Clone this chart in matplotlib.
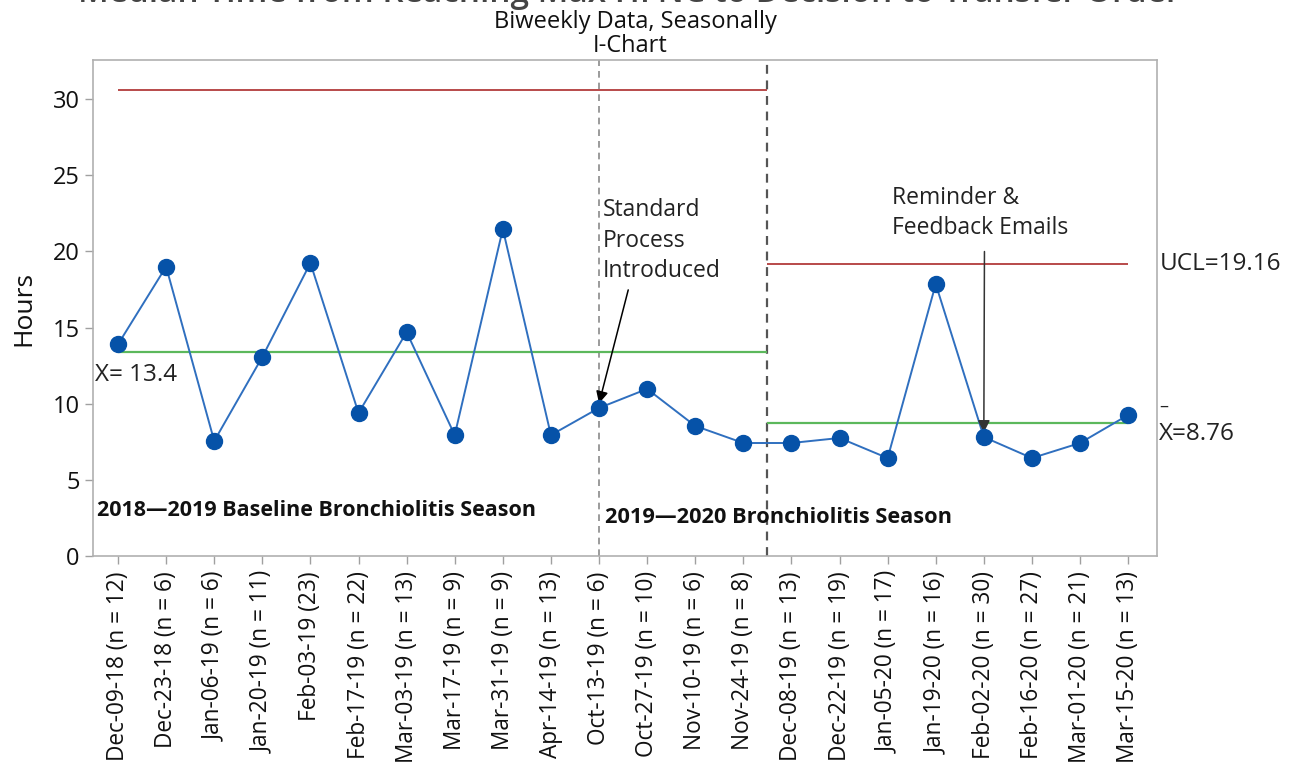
import matplotlib
matplotlib.use("Agg")
import matplotlib.pyplot as plt

plt.rcParams['font.family'] = ['Open Sans', 'DejaVu Sans']

# Biweekly periods with sample sizes
dates = ["Dec-09-18 (n = 12)", "Dec-23-18 (n = 6)", "Jan-06-19 (n = 6)", "Jan-20-19 (n = 11)",
         "Feb-03-19 (23)", "Feb-17-19 (n = 22)", "Mar-03-19 (n = 13)", "Mar-17-19 (n = 9)",
         "Mar-31-19 (n = 9)", "Apr-14-19 (n = 13)", "Oct-13-19 (n = 6)", "Oct-27-19 (n = 10)",
         "Nov-10-19 (n = 6)", "Nov-24-19 (n = 8)", "Dec-08-19 (n = 13)", "Dec-22-19 (n = 19)",
         "Jan-05-20 (n = 17)", "Jan-19-20 (n = 16)", "Feb-02-20 (n = 30)", "Feb-16-20 (n = 27)",
         "Mar-01-20 (n = 21)", "Mar-15-20 (n = 13)"]

# Median hours per period
hours = [13.9, 19.0, 7.55, 13.07, 19.24, 9.39, 14.7, 7.94, 21.47, 7.94,
         9.72, 10.97, 8.54, 7.42, 7.42, 7.75, 6.43, 17.86, 7.81, 6.43, 7.42, 9.26]

# Control limits per stage
stage1_mean, stage1_ucl = 13.4, 30.6
stage2_mean, stage2_ucl = 8.76, 19.16
stage_break = 13.5          # boundary between stage 1 and stage 2
intervention_idx = 10       # Standard process introduced
email_idx = 18              # Reminder & feedback emails

fig = plt.figure(figsize=(12.97, 7.68), dpi=100)
ax = fig.add_axes([93/1297, 1-556/768, (1157-93)/1297, (556-60)/768])

x = list(range(len(hours)))
ax.plot(x, hours, color='#2f6fbf', lw=1.4, zorder=3)
ax.plot(x, hours, 'o', color='#0652a8', ms=11.5, zorder=4)

red = '#b84a4a'
green = '#5cb85c'
ax.hlines(stage1_ucl, 0, stage_break, color=red, lw=1.4, zorder=2)
ax.hlines(stage1_mean, 0, stage_break, color=green, lw=1.6, zorder=2)
ax.hlines(stage2_ucl, stage_break, len(hours)-1, color=red, lw=1.4, zorder=2)
ax.hlines(stage2_mean, stage_break, len(hours)-1, color=green, lw=1.6, zorder=2)

ax.axvline(intervention_idx, color='#8a8a8a', lw=1.2, ls=(0, (4, 3)), zorder=1)
ax.axvline(stage_break, color='#555555', lw=1.6, ls=(0, (4, 3)), zorder=1)

ax.set_xlim(-0.52, 21.6)
ax.set_ylim(0, 32.57)
ax.set_yticks([0, 5, 10, 15, 20, 25, 30])
ax.set_xticks(x)
ax.set_xticklabels(dates, rotation=90, fontsize=16.3, color='#111111')
ax.tick_params(axis='y', labelsize=17, colors='#a0a0a0', labelcolor='#111111', length=6, width=1)
ax.tick_params(axis='x', colors='#a0a0a0', labelcolor='#111111', length=6, width=1, pad=5)
for s in ax.spines.values():
    s.set_color('#b0b0b0')
    s.set_linewidth(1.2)
ax.set_ylabel('Hours', fontsize=19, color='#111111', labelpad=12)

# Limit labels
ax.text(-0.48, 11.9, 'X= 13.4', fontsize=17.5, color='#222222', va='center', ha='left')
ax.text(21.65, stage2_ucl, 'UCL=19.16', fontsize=17.5, color='#222222', va='center', ha='left', clip_on=False)
ax.text(21.65, 9.8, '–', fontsize=13, color='#222222', va='center', ha='left', clip_on=False)
ax.text(21.65, 8.0, 'X=8.76', fontsize=17.5, color='#222222', va='center', ha='left', clip_on=False)

# Season labels
ax.text(-0.44, 3.0, '2018\u20142019 Baseline Bronchiolitis Season', fontsize=15.5,
        fontweight='bold', color='#111111', va='center', ha='left')
ax.text(10.12, 2.56, '2019\u20142020 Bronchiolitis Season', fontsize=15.7,
        fontweight='bold', color='#111111', va='center', ha='left')

# Intervention annotations
ax.annotate('Standard\nProcess\nIntroduced', xy=(intervention_idx, hours[intervention_idx] + 0.3),
            xytext=(10.08, 23.5), fontsize=16.5, color='#222222', va='top', ha='left',
            linespacing=1.36,
            arrowprops=dict(arrowstyle='-|>', color='black', lw=1.1, mutation_scale=18,
                            shrinkA=3, shrinkB=0, relpos=(0.23, 0.0)))
ax.annotate('Reminder &\nFeedback Emails', xy=(email_idx, hours[email_idx] + 0.3),
            xytext=(16.09, 24.3), fontsize=16.5, color='#222222', va='top', ha='left',
            linespacing=1.36,
            arrowprops=dict(arrowstyle='-|>', color='#333333', lw=1.1, mutation_scale=18,
                            shrinkA=6, shrinkB=0, relpos=(0.525, 0.0)))

# Titles
fig.text(0.485, 1-10/768, 'Median Time from Reaching Max HFNC to Decision to Transfer Order',
         fontsize=24, color='#444444', ha='center', va='bottom', fontweight='semibold')
fig.text(0.49, 1-22/768, 'Biweekly Data, Seasonally', fontsize=17, color='#111111',
         ha='center', va='center')
fig.text(0.486, 1-46/768, 'I-Chart', fontsize=17, color='#111111', ha='center', va='center')

fig.savefig('out.png', dpi=100)
